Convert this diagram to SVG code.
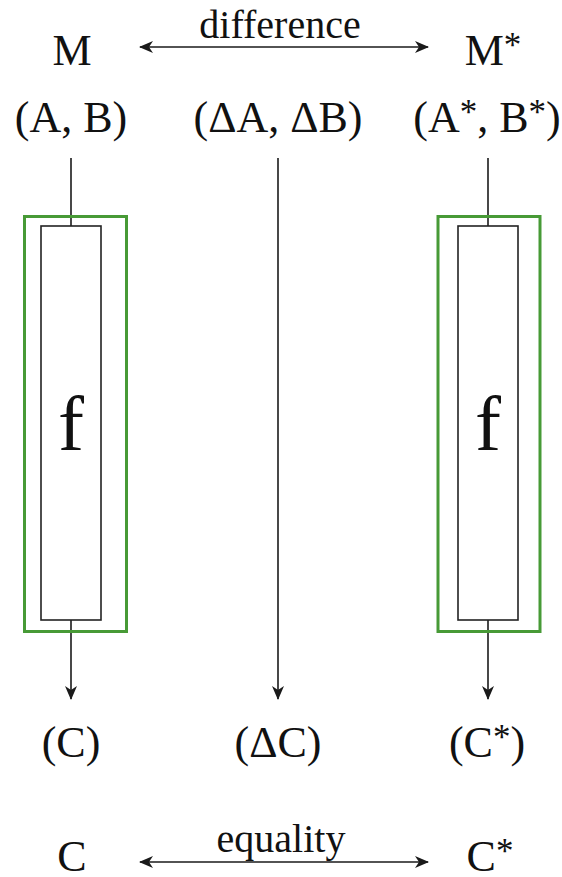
<svg xmlns="http://www.w3.org/2000/svg" width="562" height="877" viewBox="0 0 562 877">
<defs>
<style>
.lbl{font-size:44px}
.small{font-size:40px}
.f{font-size:78px}
.sup{font-size:35px}
.outer{fill:none;stroke:#479a36;stroke-width:3}
.inner{fill:#fff;stroke:#222;stroke-width:1.6}
.con{fill:none;stroke:#1a1a1a;stroke-width:1.6}
</style>
<marker id="ah" viewBox="0 0 14 12" refX="13" refY="6" markerWidth="14" markerHeight="12" markerUnits="userSpaceOnUse" orient="auto-start-reverse">
<path d="M0,0 L14,6 L0,12 L4,6 Z" fill="#1a1a1a"/>
</marker>
</defs>
<rect width="562" height="877" fill="#fff"/>
<g id="conn">
<line class="con" x1="71" y1="158" x2="71" y2="226"/>
<line class="con" x1="71" y1="620" x2="71" y2="699" marker-end="url(#ah)"/>
<line class="con" x1="278" y1="158" x2="278" y2="699" marker-end="url(#ah)"/>
<line class="con" x1="488" y1="158" x2="488" y2="226"/>
<line class="con" x1="488" y1="620" x2="488" y2="699" marker-end="url(#ah)"/>
<line class="con" x1="140" y1="47" x2="428" y2="47" marker-start="url(#ah)" marker-end="url(#ah)"/>
<line class="con" x1="140" y1="862" x2="428" y2="862" marker-start="url(#ah)" marker-end="url(#ah)"/>
</g>
<g font-family="'Liberation Serif', 'Times New Roman', serif" fill="#111" text-anchor="middle">
<g id="f-left">
<rect class="outer" x="24.5" y="216.5" width="102" height="415"/>
<rect class="inner" x="41" y="226" width="60" height="394"/>
<text class="f" x="71" y="450">f</text>
</g>
<g id="f-right">
<rect class="outer" x="438" y="216.5" width="102" height="415"/>
<rect class="inner" x="458" y="226" width="60" height="394"/>
<text class="f" x="488" y="450">f</text>
</g>
<g id="M"><text class="lbl" x="72" y="65">M</text></g>
<g id="Mstar"><text class="lbl" x="493" y="65">M<tspan class="sup" dy="-8">*</tspan></text></g>
<g id="diff-label"><text class="small" x="280" y="38">difference</text></g>
<g id="AB"><text class="lbl" x="71" y="132">(A, B)</text></g>
<g id="dAB"><text class="lbl" x="278" y="132">(ΔA, ΔB)</text></g>
<g id="ABstar"><text class="lbl" x="487" y="132">(A<tspan class="sup" dy="-8">*</tspan><tspan dy="8">, B</tspan><tspan class="sup" dy="-8">*</tspan><tspan dy="8">)</tspan></text></g>
<g id="Cp"><text class="lbl" x="71" y="757">(C)</text></g>
<g id="dC"><text class="lbl" x="278" y="757">(ΔC)</text></g>
<g id="Cstar-p"><text class="lbl" x="487" y="757">(C<tspan class="sup" dy="-8">*</tspan><tspan dy="8">)</tspan></text></g>
<g id="eq-label"><text class="small" x="281" y="852">equality</text></g>
<g id="C"><text class="lbl" x="72" y="871">C</text></g>
<g id="Cstar"><text class="lbl" x="490" y="871">C<tspan class="sup" dy="-8">*</tspan></text></g>
</g>
</svg>
